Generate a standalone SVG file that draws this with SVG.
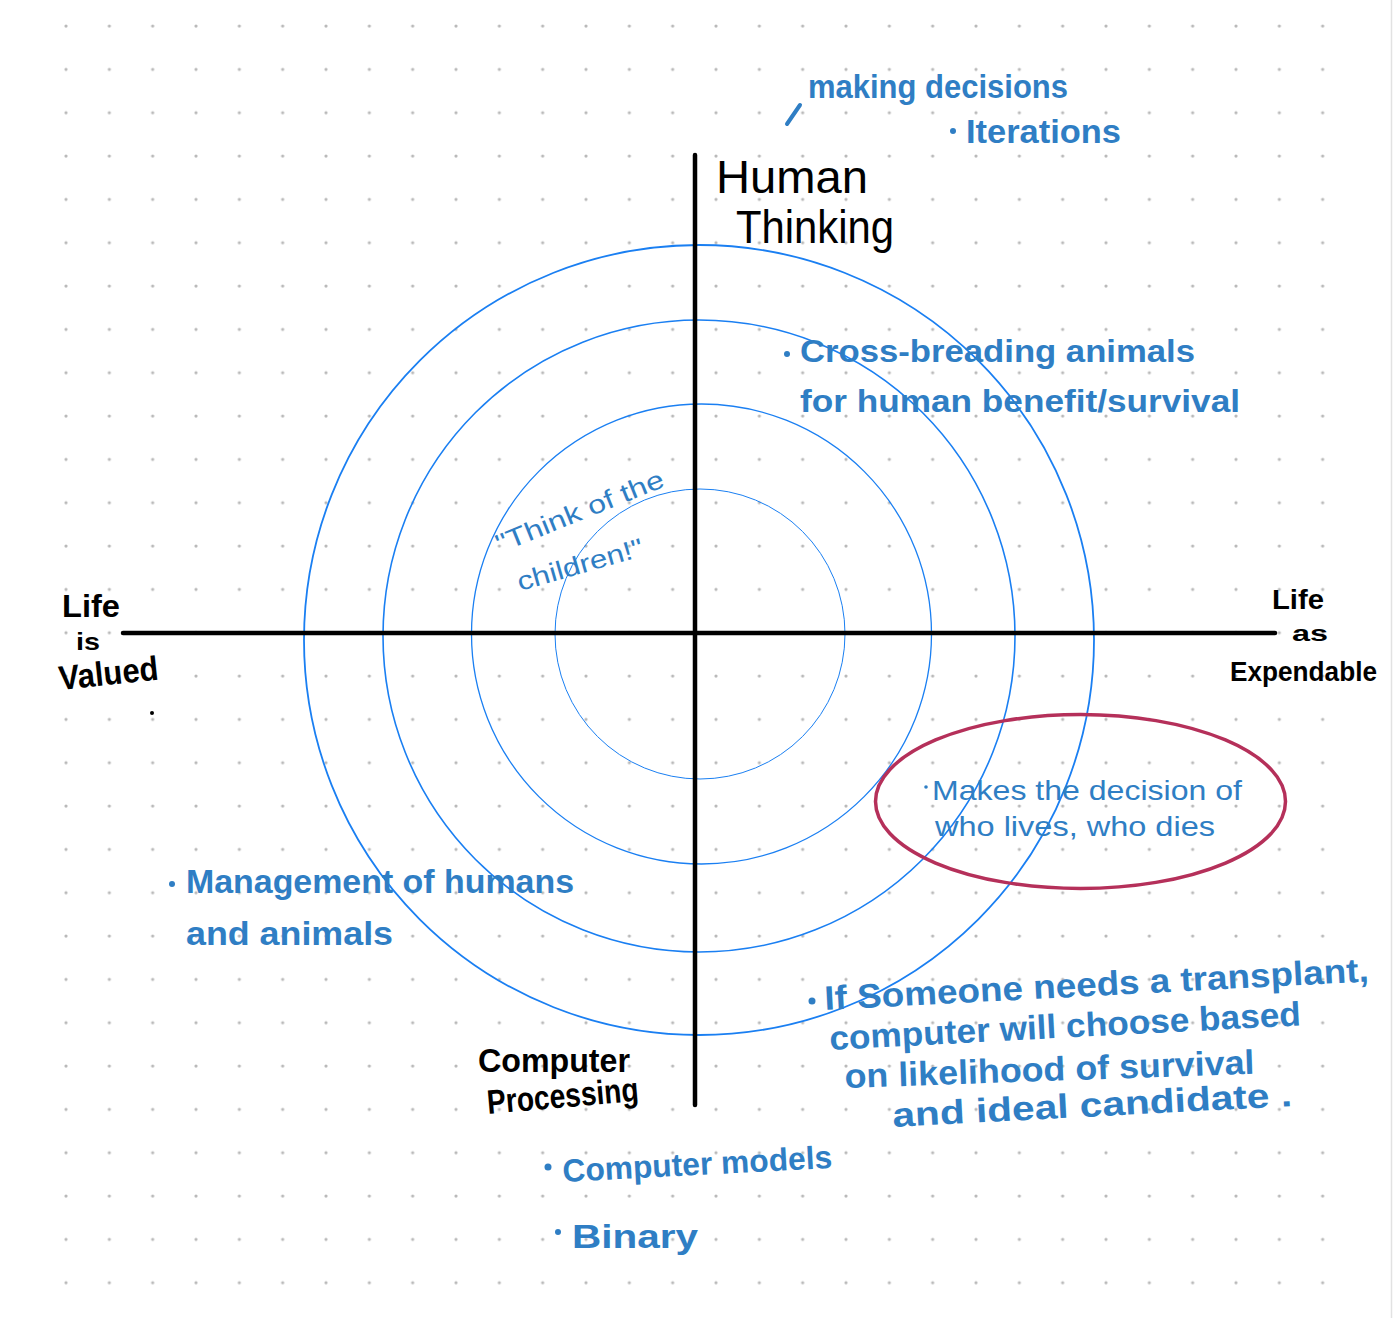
<svg xmlns="http://www.w3.org/2000/svg" width="1394" height="1318" viewBox="0 0 1394 1318">
<defs>
<pattern id="dots" x="44.333" y="4.333" width="43.333" height="43.333" patternUnits="userSpaceOnUse">
<circle cx="21.667" cy="21.667" r="1.6" fill="#b9b9b9"/>
</pattern>
<style>
.ink{font-family:"Liberation Sans","Noto Sans",Arial,sans-serif;fill:#000;font-weight:bold;}
.blue{font-family:"Liberation Sans","Noto Sans",Arial,sans-serif;fill:#2f7ec4;font-weight:bold;}
.thin{font-weight:normal;}
.ring{fill:none;stroke:#1a7ff2;}
.axis{stroke:#000;stroke-width:4.5;stroke-linecap:round;}
.bullet{fill:#2f7ec4;}
</style>
</defs>
<rect x="0" y="0" width="1394" height="1318" fill="#fff"/>
<rect x="44" y="4" width="1300" height="1300" fill="url(#dots)"/>
<line x1="1391.5" y1="0" x2="1391.5" y2="1318" stroke="#e2e2e2" stroke-width="1.5"/>

<g id="rings">
<circle class="ring" cx="699" cy="640" r="395" stroke-width="1.8"/>
<circle class="ring" cx="699" cy="636" r="316" stroke-width="1.6"/>
<circle class="ring" cx="701.5" cy="634" r="230" stroke-width="1.3"/>
<circle class="ring" cx="700" cy="634" r="145" stroke-width="1"/>
</g>

<g id="connectors">
<line class="axis" x1="123" y1="633" x2="1275" y2="633"/>
<line class="axis" x1="695" y1="155" x2="695" y2="1105"/>
</g>

<g id="highlight">
<ellipse cx="1080.5" cy="801.5" rx="205" ry="87" fill="none" stroke="#b5305a" stroke-width="3.5"/>
</g>

<g id="label-human-thinking">
<text class="ink thin" x="716" y="193" font-size="46" textLength="152" lengthAdjust="spacingAndGlyphs">Human</text>
<text class="ink thin" x="736" y="243" font-size="46" textLength="158" lengthAdjust="spacingAndGlyphs">Thinking</text>
</g>

<g id="label-computer-processing">
<text class="ink" x="478" y="1072" font-size="34" textLength="152" lengthAdjust="spacingAndGlyphs">Computer</text>
<text class="ink" x="488" y="1114" font-size="34" textLength="152" lengthAdjust="spacingAndGlyphs" transform="rotate(-5 488 1114)">Processing</text>
</g>

<g id="label-life-valued">
<text class="ink" x="62" y="617" font-size="32" textLength="58" lengthAdjust="spacingAndGlyphs">Life</text>
<text class="ink" x="76" y="650" font-size="24" textLength="24" lengthAdjust="spacingAndGlyphs">is</text>
<text class="ink" x="60" y="690" font-size="34" textLength="100" lengthAdjust="spacingAndGlyphs" transform="rotate(-6 60 690)">Valued</text>
<circle cx="152" cy="713" r="2" fill="#000"/>
</g>

<g id="label-life-expendable">
<text class="ink" x="1272" y="609" font-size="28" textLength="52" lengthAdjust="spacingAndGlyphs">Life</text>
<text class="ink" x="1292" y="641" font-size="22" textLength="36" lengthAdjust="spacingAndGlyphs">as</text>
<text class="ink" x="1230" y="681" font-size="28" textLength="147" lengthAdjust="spacingAndGlyphs">Expendable</text>
</g>

<g id="note-decisions">
<line x1="787" y1="124" x2="800" y2="105" stroke="#2f7ec4" stroke-width="4" stroke-linecap="round"/>
<text class="blue" x="808" y="98" font-size="34" textLength="260" lengthAdjust="spacingAndGlyphs">making decisions</text>
<circle class="bullet" cx="953" cy="131" r="3"/>
<text class="blue" x="966" y="143" font-size="34" textLength="155" lengthAdjust="spacingAndGlyphs">Iterations</text>
</g>

<g id="note-crossbreeding">
<circle class="bullet" cx="787" cy="354" r="3"/>
<text class="blue" x="800" y="362" font-size="32" textLength="395" lengthAdjust="spacingAndGlyphs">Cross-breading animals</text>
<text class="blue" x="800" y="412" font-size="32" textLength="440" lengthAdjust="spacingAndGlyphs">for human benefit/survival</text>
</g>

<g id="note-children">
<text class="blue thin" x="500" y="553" font-size="26" textLength="179" lengthAdjust="spacingAndGlyphs" transform="rotate(-22 500 553)">"Think of the</text>
<text class="blue thin" x="520" y="591" font-size="26" textLength="130" lengthAdjust="spacingAndGlyphs" transform="rotate(-16 520 591)">children!"</text>
</g>

<g id="note-decision-lives">
<circle class="bullet" cx="926" cy="787" r="1.8"/>
<text class="blue thin" x="932" y="800" font-size="28" textLength="310" lengthAdjust="spacingAndGlyphs">Makes the decision of</text>
<text class="blue thin" x="935" y="836" font-size="28" textLength="280" lengthAdjust="spacingAndGlyphs">who lives, who dies</text>
</g>

<g id="note-management">
<circle class="bullet" cx="172" cy="884" r="3"/>
<text class="blue" x="186" y="893" font-size="34" textLength="388" lengthAdjust="spacingAndGlyphs">Management of humans</text>
<text class="blue" x="186" y="945" font-size="34" textLength="207" lengthAdjust="spacingAndGlyphs">and animals</text>
</g>

<g id="note-transplant">
<circle class="bullet" cx="812" cy="1001" r="3.5"/>
<text class="blue" x="825" y="1010" font-size="34" textLength="545" lengthAdjust="spacingAndGlyphs" transform="rotate(-3 825 1010)">If Someone needs a transplant,</text>
<text class="blue" x="830" y="1050" font-size="34" textLength="472" lengthAdjust="spacingAndGlyphs" transform="rotate(-3 830 1050)">computer will choose based</text>
<text class="blue" x="845" y="1088" font-size="34" textLength="410" lengthAdjust="spacingAndGlyphs" transform="rotate(-2 845 1088)">on likelihood of survival</text>
<text class="blue" x="893" y="1127" font-size="34" textLength="400" lengthAdjust="spacingAndGlyphs" transform="rotate(-3 893 1127)">and ideal candidate .</text>
</g>

<g id="note-computer">
<circle class="bullet" cx="548" cy="1167" r="3.5"/>
<text class="blue" x="563" y="1182" font-size="32" textLength="270" lengthAdjust="spacingAndGlyphs" transform="rotate(-3 563 1182)">Computer models</text>
<circle class="bullet" cx="558" cy="1232" r="3"/>
<text class="blue" x="572" y="1248" font-size="34" textLength="126" lengthAdjust="spacingAndGlyphs">Binary</text>
</g>
</svg>
